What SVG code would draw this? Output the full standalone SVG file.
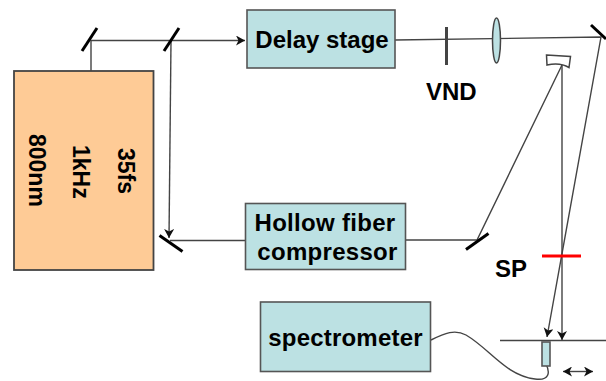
<svg xmlns="http://www.w3.org/2000/svg" width="606" height="381" viewBox="0 0 606 381">
<style>
.box{fill:#bce1e3;stroke:#555;stroke-width:1.6}
.t{font-family:"Liberation Sans",Arial,sans-serif;font-weight:bold;fill:#000}
.b{fill:none;stroke:#444;stroke-width:1.4}
.m{fill:none;stroke:#000;stroke-width:3}
</style>
<defs>
<marker id="a" markerWidth="11" markerHeight="12" refX="9" refY="5" orient="auto" markerUnits="userSpaceOnUse"><path d="M0 0L9 5L0 10L2.500 5Z" fill="#111"/></marker>
<marker id="s" markerWidth="11" markerHeight="12" refX="0" refY="5" orient="auto" markerUnits="userSpaceOnUse"><path d="M9 0L0 5L9 10L6.500 5Z" fill="#111"/></marker>
</defs>
<g id="connectors">
<path class="b" d="M91 71V40.500H245" marker-end="url(#a)"/>
<path class="b" d="M171 41L169 238" marker-end="url(#a)"/>
<path class="b" d="M246 240.500H170"/>
<path class="b" d="M405 240H477L562 65"/>
<path class="b" d="M395 40L601 37L547 337" marker-end="url(#a)"/>
<path class="b" d="M562 65V340" marker-end="url(#a)"/>
<path class="b" d="M431 340C445 333 455 329 466 335C490 349 505 375 535 379C550 381 550 372 546 364"/>
<path class="b" d="M500 340.500H606"/>
<path class="b" d="M563 371.500H593" marker-start="url(#s)" marker-end="url(#a)"/>
</g>
<g id="laser"><rect x="14" y="71" width="139.500" height="199" fill="#fecb96" stroke="#444" stroke-width="1.800"/>
<text class="t" font-size="23" transform="translate(118,148) rotate(90)">35fs</text>
<text class="t" font-size="23" transform="translate(73,145) rotate(90)">1kHz</text>
<text class="t" font-size="23" transform="translate(29,134) rotate(90)">800nm</text></g>
<g id="delay-stage"><rect class="box" x="247" y="10" width="148" height="58"/><text class="t" font-size="24" x="322" y="48" text-anchor="middle">Delay stage</text></g>
<g id="hollow-fiber"><rect class="box" x="245.500" y="203.500" width="160" height="66"/><text class="t" font-size="24" x="325" y="231" text-anchor="middle" letter-spacing="0.300">Hollow fiber</text><text class="t" font-size="24" x="327.500" y="260" text-anchor="middle" letter-spacing="0.300">compressor</text></g>
<g id="spectrometer"><rect class="box" x="260.500" y="302" width="170" height="69.500"/><text class="t" font-size="24" x="345.500" y="346" text-anchor="middle" letter-spacing="0.200">spectrometer</text></g>
<g id="mirror-1"><path class="m" d="M82 51L97 28"/></g>
<g id="mirror-2"><path class="m" d="M164 51L179 28"/></g>
<g id="mirror-3"><path class="m" d="M159.500 235.500L182.500 251.500"/></g>
<g id="mirror-4"><path class="m" d="M466 249.500L488.500 233.500"/></g>
<g id="mirror-5"><path class="m" d="M591 25L606 39"/></g>
<g id="curved-mirror"><path d="M546.500 55L570.500 56.500L569 67.500Q560 62 547 65Z" fill="#fff" stroke="#444" stroke-width="1.500"/></g>
<g id="vnd"><path d="M446.500 27V65" stroke="#444" stroke-width="3" fill="none"/><text class="t" font-size="24" x="426" y="100">VND</text></g>
<g id="lens"><ellipse cx="496.500" cy="40.500" rx="4" ry="22.500" fill="#bce1e3" stroke="#444" stroke-width="1.500"/></g>
<g id="sp"><path d="M542 256H581" stroke="#f00" stroke-width="3" fill="none"/><text class="t" font-size="24" x="495" y="277">SP</text></g>
<g id="detector"><rect class="box" x="542" y="342" width="8" height="24"/></g>
</svg>
